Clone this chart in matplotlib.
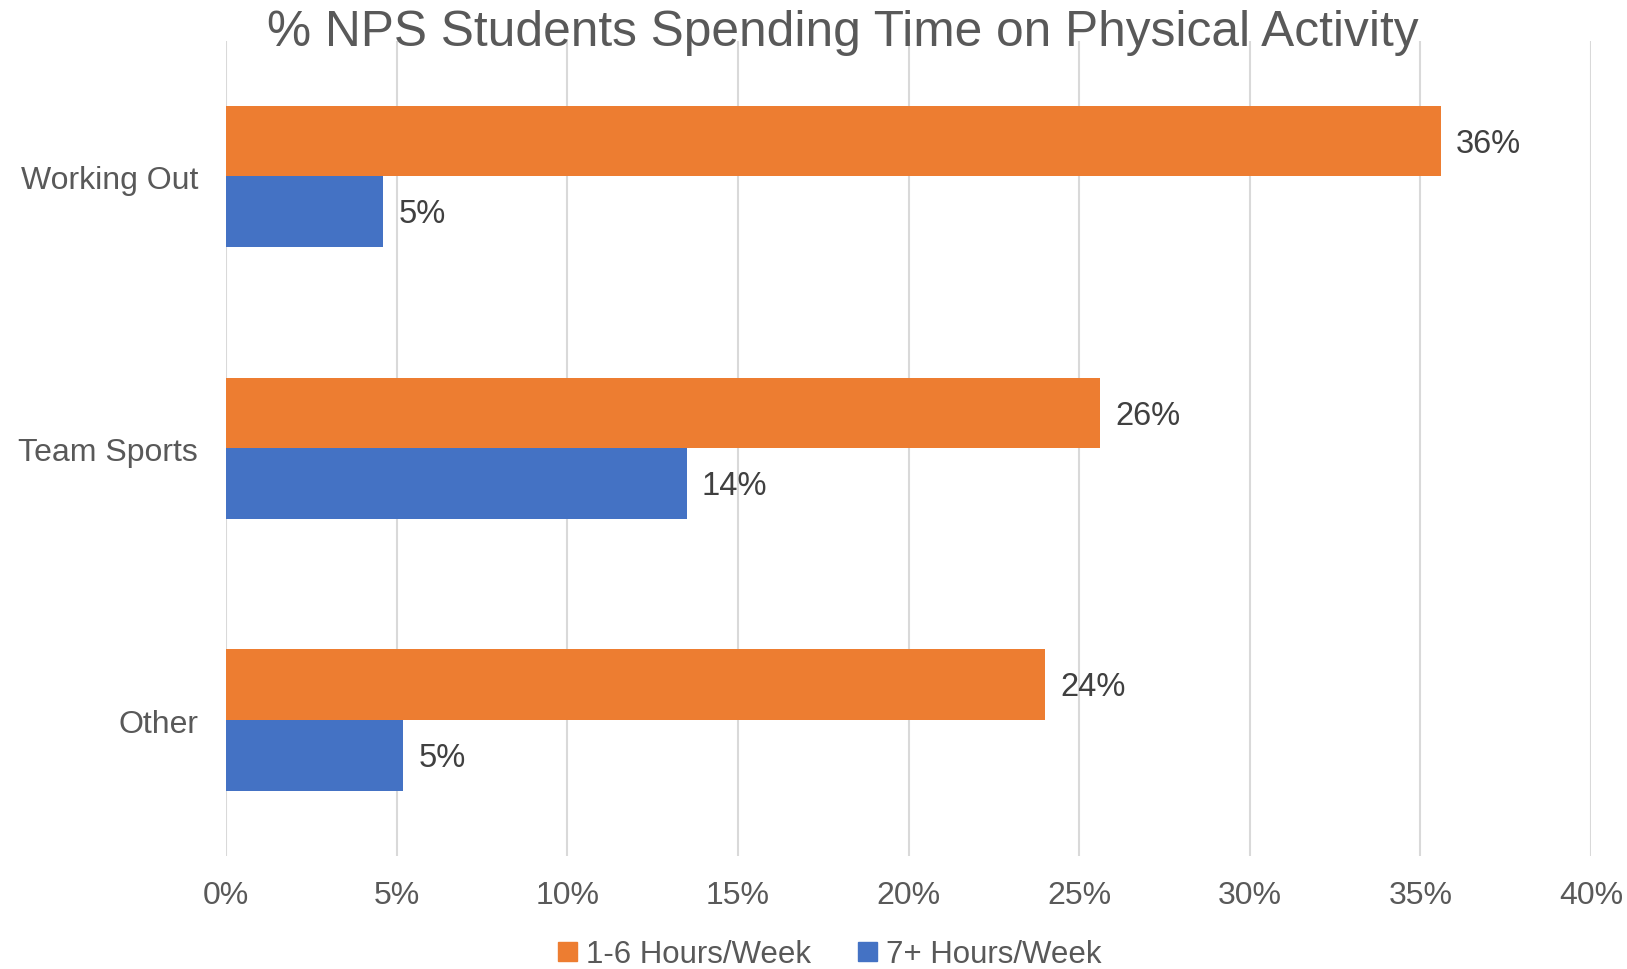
"""
Horizontal grouped bar chart: share of NPS students spending time on
physical activity, split by weekly hours.
"""
import matplotlib.pyplot as plt
import numpy as np
from matplotlib.patches import Patch

CATEGORIES = ["Working Out", "Team Sports", "Other"]
SERIES = ["1-6 Hours/Week", "7+ Hours/Week"]
LOW_HOURS = [35.6, 25.6, 24.0]
HIGH_HOURS = [4.6, 13.5, 5.2]
LOW_LABELS = ["36%", "26%", "24%"]
HIGH_LABELS = ["5%", "14%", "5%"]
XTICKS = [0, 5, 10, 15, 20, 25, 30, 35, 40]

ORANGE = "#ED7D31"
BLUE = "#4472C4"
GREY = "#595959"
DARK = "#404040"

plt.rcParams["font.family"] = ["Liberation Sans", "DejaVu Sans"]

fig = plt.figure(figsize=(16.27, 9.70), dpi=100)
ax = fig.add_axes([0.1389, 0.1165, 0.839, 0.8407])

y = np.arange(len(CATEGORIES))
h = 0.26
bars_low = ax.barh(y - h / 2, LOW_HOURS, height=h, color=ORANGE, zorder=3)
bars_high = ax.barh(y + h / 2, HIGH_HOURS, height=h, color=BLUE, zorder=3)

for bars, labels in ((bars_low, LOW_LABELS), (bars_high, HIGH_LABELS)):
    for bar, label in zip(bars, labels):
        ax.annotate(
            label,
            (bar.get_width(), bar.get_y() + bar.get_height() / 2),
            xytext=(11, -1.5), textcoords="offset points",
            va="center", ha="left", fontsize=23.5, color=DARK,
        )

ax.set_xlim(0, 40)
ax.set_ylim(2.5, -0.5)
ax.set_xticks(XTICKS)
ax.set_xticklabels([f"{t}%" for t in XTICKS])
ax.set_yticks(y)
ax.set_yticklabels(CATEGORIES)
ax.tick_params(axis="both", length=0, labelsize=23, labelcolor=GREY)
ax.tick_params(axis="x", pad=17)
ax.tick_params(axis="y", pad=20)
ax.grid(axis="x", color="#D9D9D9", linewidth=1.5, zorder=0)
for spine in ax.spines.values():
    spine.set_visible(False)

fig.text(0.518, 0.966, "% NPS Students Spending Time on Physical Activity",
         ha="center", va="center", fontsize=35.7, color=GREY)

handles = [Patch(color=ORANGE), Patch(color=BLUE)]
fig.legend(
    handles, SERIES, loc="center", bbox_to_anchor=(0.51, 0.015),
    ncol=2, frameon=False, fontsize=22.5, labelcolor=GREY,
    handlelength=0.6, handleheight=0.6, handletextpad=0.3, columnspacing=1.5,
)

fig.savefig("out.png", dpi=100)
